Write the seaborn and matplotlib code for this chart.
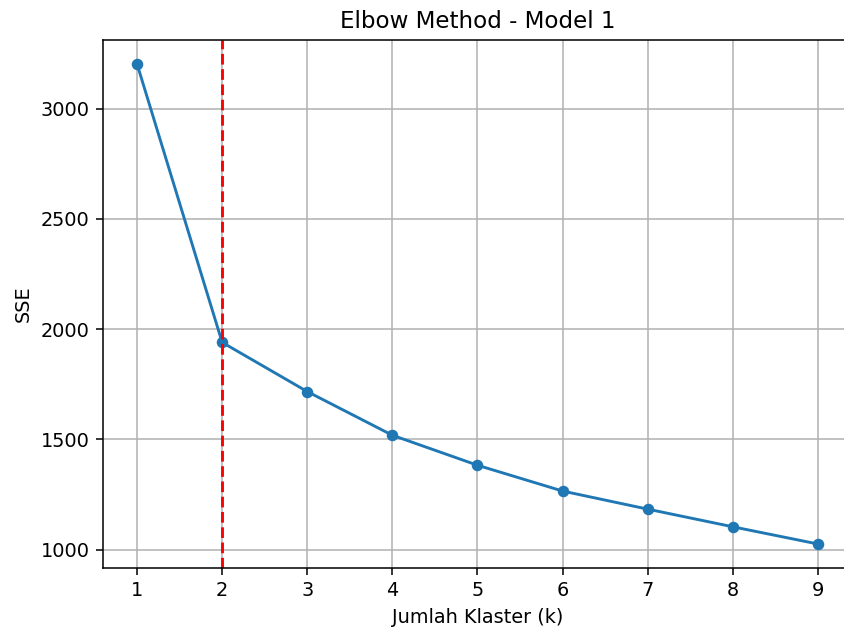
import matplotlib
matplotlib.use("Agg")
import matplotlib.pyplot as plt
import seaborn as sns
import pandas as pd

k_values = [1, 2, 3, 4, 5, 6, 7, 8, 9]
sse_values = [3202, 1940, 1717, 1519, 1383, 1266, 1184, 1104, 1026]
elbow_k = 2

df = pd.DataFrame({"k": k_values, "SSE": sse_values})

DPI = 138.3
fig = plt.figure(figsize=(844 / DPI, 630 / DPI), dpi=DPI)
ax = fig.add_axes([103/844, 1 - 568/630, (852-103)/844, (568-40)/630])
sns.lineplot(data=df, x="k", y="SSE", marker="o", markersize=6, markeredgewidth=0,
             color="#1f77b4", linewidth=1.5, ax=ax)
ax.axvline(elbow_k, color="red", linestyle="--", linewidth=1.5)
ax.set_xticks(k_values)
ax.grid(True, color="#b0b0b0", linewidth=0.8)
ax.set_axisbelow(True)
ax.set_title("Elbow Method - Model 1", fontsize=12)
ax.set_xlabel("Jumlah Klaster (k)", fontsize=10)
ax.set_ylabel("SSE", fontsize=10)
ax.tick_params(labelsize=10)
fig.savefig("out.png", dpi=DPI)
